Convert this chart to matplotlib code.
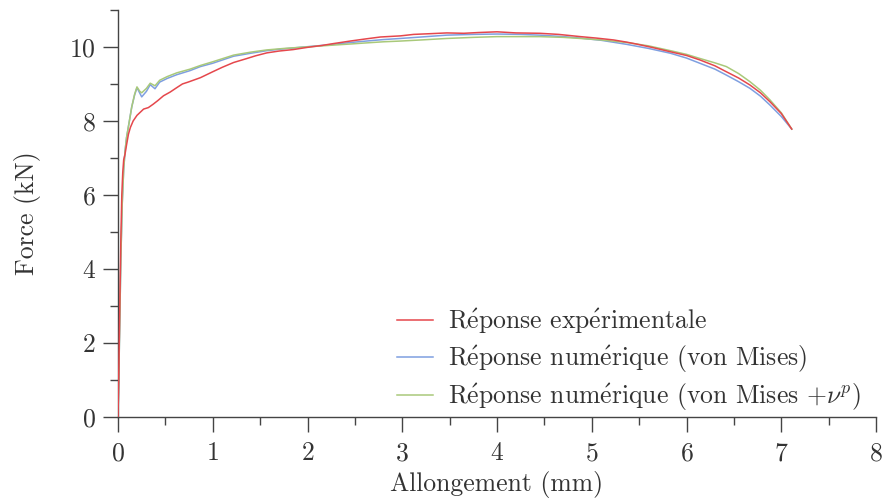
import matplotlib
matplotlib.use("Agg")
import matplotlib.pyplot as plt
from matplotlib.ticker import MultipleLocator

plt.rcParams['font.family'] = ['cmr10', 'DejaVu Serif']
plt.rcParams['mathtext.fontset'] = 'cm'
plt.rcParams['axes.formatter.use_mathtext'] = True

# Experimental response
x_exp = [0, 0.01, 0.02, 0.03, 0.04, 0.05, 0.06, 0.074, 0.09, 0.11, 0.13, 0.16, 0.2, 0.27,
         0.32, 0.37, 0.42, 0.48, 0.55, 0.62, 0.68, 0.74, 0.87, 1.0, 1.1, 1.22, 1.35, 1.45,
         1.57, 1.7, 1.85, 2.0, 2.15, 2.27, 2.45, 2.62, 2.77, 2.98, 3.12, 3.3, 3.47, 3.65,
         3.8, 4.0, 4.2, 4.45, 4.65, 4.88, 5.05, 5.23, 5.37, 5.47, 5.65, 5.83, 6.0, 6.14,
         6.3, 6.42, 6.55, 6.67, 6.78, 6.88, 7.0, 7.11]
y_exp = [0, 1.5, 3.2, 4.8, 6.0, 6.6, 6.95, 7.1, 7.35, 7.64, 7.82, 8.0, 8.15, 8.32,
         8.36, 8.45, 8.55, 8.68, 8.78, 8.9, 9.0, 9.05, 9.17, 9.33, 9.45, 9.58, 9.68, 9.76,
         9.84, 9.89, 9.93, 9.99, 10.04, 10.09, 10.16, 10.22, 10.27, 10.3, 10.34, 10.36, 10.38, 10.37,
         10.39, 10.41, 10.38, 10.37, 10.34, 10.28, 10.24, 10.19, 10.13, 10.08, 9.98, 9.87, 9.77, 9.65,
         9.49, 9.33, 9.16, 8.97, 8.76, 8.52, 8.2, 7.78]

# Numerical responses
x_num = [0, 0.01, 0.02, 0.03, 0.045, 0.06, 0.075, 0.09, 0.12, 0.145, 0.175, 0.2, 0.23, 0.25,
         0.3, 0.34, 0.39, 0.44, 0.52, 0.62, 0.76, 0.87, 1.0, 1.22, 1.4, 1.57, 1.75, 1.92,
         2.1, 2.27, 2.45, 2.62, 2.8, 2.98, 3.2, 3.47, 3.75, 4.0, 4.25, 4.45, 4.7, 4.88,
         5.1, 5.37, 5.6, 5.83, 6.0, 6.14, 6.3, 6.42, 6.55, 6.67, 6.78, 6.88, 7.0, 7.11]
y_vm = [0, 1.3, 2.8, 4.3, 5.8, 6.7, 7.2, 7.55, 8.0, 8.38, 8.7, 8.9, 8.75, 8.65,
        8.8, 8.98, 8.87, 9.05, 9.15, 9.25, 9.36, 9.47, 9.56, 9.75, 9.83, 9.9, 9.95, 9.99,
        10.03, 10.07, 10.12, 10.16, 10.2, 10.23, 10.27, 10.32, 10.34, 10.35, 10.34, 10.32, 10.28, 10.24,
        10.18, 10.07, 9.96, 9.83, 9.7, 9.56, 9.4, 9.24, 9.06, 8.88, 8.67, 8.43, 8.12, 7.78]
y_vmp = [0, 1.3, 2.8, 4.3, 5.8, 6.7, 7.2, 7.55, 8.0, 8.38, 8.72, 8.92, 8.8, 8.76,
         8.88, 9.02, 8.95, 9.1, 9.2, 9.3, 9.4, 9.5, 9.6, 9.78, 9.86, 9.92, 9.96, 9.99,
         10.02, 10.05, 10.08, 10.11, 10.14, 10.16, 10.19, 10.23, 10.26, 10.28, 10.28, 10.28, 10.26, 10.23,
         10.19, 10.12, 10.03, 9.9, 9.8, 9.69, 9.57, 9.47, 9.28, 9.06, 8.83, 8.57, 8.22, 7.78]

E = r"$\acute{\mathrm{e}}$"
labels = ["R" + E + "ponse exp" + E + "rimentale",
          "R" + E + "ponse num" + E + "rique (von Mises)",
          "R" + E + "ponse num" + E + r"rique (von Mises $+\nu^p$)"]
x_ticks = [0, 1, 2, 3, 4, 5, 6, 7, 8]
y_ticks = [0, 2, 4, 6, 8, 10]

fig = plt.figure(figsize=(8.84, 5.0), dpi=100)
ax = fig.add_axes([0.1335, 0.1666, 0.8575, 0.8134])

ax.plot(x_exp, y_exp, color='#e5474c', lw=1.1, label=labels[0], zorder=3)
ax.plot(x_num, y_vm, color='#7f9fe0', lw=1.1, label=labels[1], zorder=2)
ax.plot(x_num, y_vmp, color='#a9c97a', lw=1.1, label=labels[2], zorder=2)

ax.set_xlim(0, 8)
ax.set_ylim(0, 11)
ax.set_xticks(x_ticks)
ax.set_yticks(y_ticks)
ax.xaxis.set_minor_locator(MultipleLocator(0.5))
ax.yaxis.set_minor_locator(MultipleLocator(1))
for s in ['top', 'right']:
    ax.spines[s].set_visible(False)
for s in ['left', 'bottom']:
    ax.spines[s].set_color('#444444')
    ax.spines[s].set_linewidth(1.0)
ax.tick_params(which='major', direction='out', length=11, width=1.0, color='#444444',
               labelsize=18.5, labelcolor='#333333')
ax.tick_params(axis='x', which='major', pad=7)
ax.tick_params(axis='y', which='major', pad=5)
ax.tick_params(which='minor', direction='out', length=6, width=1.0, color='#444444')

ax.set_xlabel("Allongement (mm)", fontsize=18.5, color='#333333', labelpad=4)
ax.set_ylabel("Force (kN)", fontsize=18.5, color='#333333', labelpad=20)

leg = ax.legend(loc='lower left', bbox_to_anchor=(0.368, 0.009), frameon=False,
                fontsize=18.5, handlelength=1.4, handletextpad=0.58, labelspacing=0.28,
                borderaxespad=0.0, borderpad=0.0)
for t in leg.get_texts():
    t.set_color('#333333')

fig.savefig("out.png", dpi=100)
